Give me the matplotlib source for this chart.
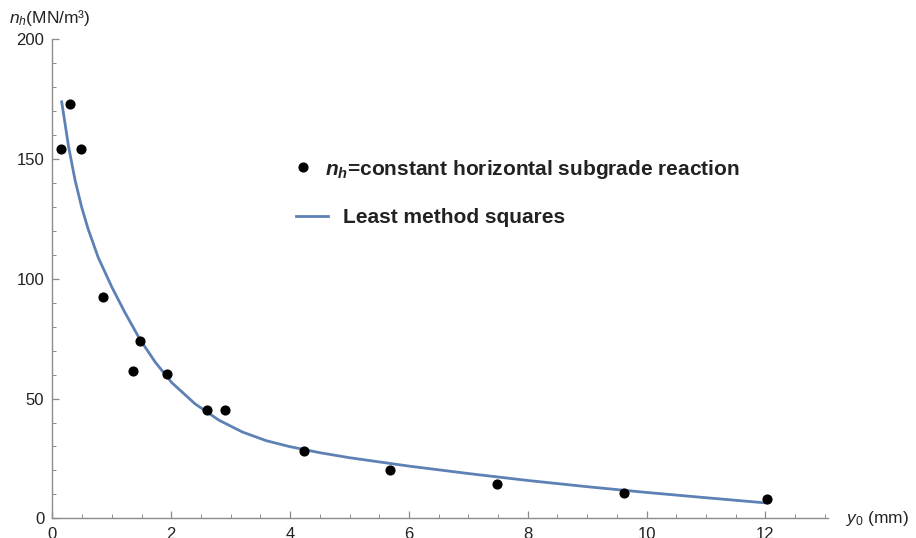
import numpy as np
import matplotlib
matplotlib.use("Agg")
import matplotlib.pyplot as plt
from matplotlib.lines import Line2D

plt.rcParams["font.family"] = ["Liberation Sans", "DejaVu Sans"]
plt.rcParams["mathtext.fontset"] = "custom"
plt.rcParams["mathtext.rm"] = "Liberation Sans"
plt.rcParams["mathtext.it"] = "Liberation Sans:italic"
plt.rcParams["mathtext.bf"] = "Liberation Sans:bold"
plt.rcParams["mathtext.bfit"] = "Liberation Sans:bold:italic"

# measured points: deflection y0 (mm) vs n_h (MN/m3)
y0_mm = [0.15, 0.29, 0.48, 0.85, 1.35, 1.47, 1.93, 2.60, 2.91, 4.23, 5.68, 7.48, 9.62, 12.02]
nh_meas = [154.4, 172.9, 154.3, 92.2, 61.6, 74.0, 60.3, 45.1, 45.3, 28.2, 20.2, 14.4, 10.6, 8.2]

# least-squares curve, sampled
fit_x = [0.155, 0.27, 0.38, 0.49, 0.60, 0.77, 1.00, 1.22, 1.47, 1.73, 2.01, 2.40, 2.80,
         3.20, 3.60, 4.00, 4.50, 5.00, 6.00, 7.00, 8.00, 9.00, 10.00, 11.00, 12.02]
fit_y = [173.9, 155.3, 141.2, 130.0, 120.8, 108.9, 96.5, 85.9, 74.8, 65.2, 56.6, 47.8, 41.0,
         36.0, 32.4, 29.9, 27.4, 25.3, 21.8, 18.7, 15.8, 13.2, 10.8, 8.6, 6.4]

x_ticks = [0, 2, 4, 6, 8, 10, 12]
y_ticks = [0, 50, 100, 150, 200]

LINE_COLOR = "#5E81B5"
AXIS_COLOR = "#8c8c8c"
TEXT_COLOR = "#222222"

fig = plt.figure(figsize=(9.16, 5.38), dpi=100)
ax = fig.add_axes([0.0573, 0.0366, 0.8463, 0.8903])

ax.plot(fit_x, fit_y, color=LINE_COLOR, lw=2.0, zorder=2, solid_joinstyle="round")
ax.plot(y0_mm, nh_meas, "o", color="black", ms=6.3, zorder=3, clip_on=False)

ax.set_xlim(0, 13.05)
ax.set_ylim(0, 200)

for side in ["top", "right"]:
    ax.spines[side].set_visible(False)
for side in ["left", "bottom"]:
    ax.spines[side].set_color(AXIS_COLOR)
    ax.spines[side].set_linewidth(1.0)

ax.set_xticks(x_ticks)
ax.set_yticks(y_ticks)
ax.set_xticks(np.arange(0, 13.01, 0.5), minor=True)
ax.set_yticks(np.arange(0, 200.1, 10), minor=True)
ax.tick_params(which="major", direction="in", length=5, width=0.9, color=AXIS_COLOR,
               labelsize=12, labelcolor=TEXT_COLOR, pad=6)
ax.tick_params(which="minor", direction="in", length=3, width=0.7, color=AXIS_COLOR)

ax.text(-0.056, 1.045, r"$n_h$(MN/m³)", transform=ax.transAxes, fontsize=12.5,
        color=TEXT_COLOR, ha="left", va="center")
ax.text(1.023, 0.0, r"$y_0$ (mm)", transform=ax.transAxes, fontsize=12.5,
        color=TEXT_COLOR, ha="left", va="center")

# two single-row legends so each row keeps its own handle spacing
leg_kw = dict(loc="center left", frameon=False, borderpad=0, borderaxespad=0,
              prop={"weight": "bold", "size": 15})
leg1 = ax.legend([Line2D([], [], ls="none", marker="o", color="black", ms=6.3)],
                 [r"$\mathbfit{n_h}$=constant horizontal subgrade reaction"],
                 bbox_to_anchor=(0.3093, 0.729), handlelength=1.0,
                 handletextpad=0.55, **leg_kw)
ax.add_artist(leg1)
leg2 = ax.legend([Line2D([], [], color=LINE_COLOR, lw=2.0)],
                 ["Least method squares"],
                 bbox_to_anchor=(0.314, 0.627), handlelength=1.55,
                 handletextpad=0.72, **leg_kw)
for leg in (leg1, leg2):
    for t in leg.get_texts():
        t.set_color(TEXT_COLOR)

fig.savefig("out.png", dpi=100)
